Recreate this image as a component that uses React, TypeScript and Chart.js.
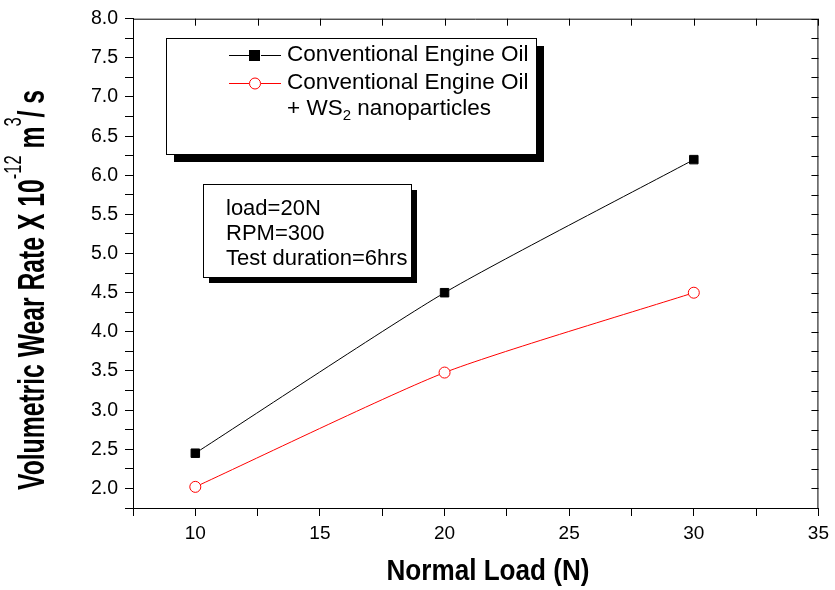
import React, { useEffect, useRef } from 'react';
import { Chart, registerables } from 'chart.js';

Chart.register(...registerables);

const loads = [10, 20, 30];
const conventionalOil = [2.45, 4.5, 6.2];
const oilWithWS2 = [2.02, 3.48, 4.5];
const seriesNames = ['Conventional Engine Oil', 'Conventional Engine Oil'];
const legendExtraLine = ['+ WS', '2', ' nanoparticles'];
const noteLines = ['load=20N', 'RPM=300', 'Test duration=6hrs'];
const xTitle = 'Normal Load (N)';
const yTitleParts = [
  { t: 'Volumetric Wear Rate X 10', sup: false },
  { t: '-12', sup: true },
  { t: ' m', sup: false },
  { t: '3', sup: true },
  { t: '/ s', sup: false },
];

const FONT = '"Liberation Sans", Arial, sans-serif';

function drawRich(ctx: any, parts: { t: string; sup: boolean }[], mainFont: string, supFont: string, raise: number, targetLen: number) {
  const widths = parts.map((p) => {
    ctx.font = p.sup ? supFont : mainFont;
    return ctx.measureText(p.t).width;
  });
  const total = widths.reduce((a, b) => a + b, 0);
  const s = targetLen / total;
  ctx.scale(s, 1);
  let x = -total / 2;
  ctx.textAlign = 'left';
  ctx.textBaseline = 'alphabetic';
  parts.forEach((p, i) => {
    ctx.font = p.sup ? supFont : mainFont;
    ctx.fillText(p.t, x, p.sup ? -raise : 0);
    x += widths[i];
  });
}

const framePlugin = {
  id: 'frameAndNotes',
  afterDatasetsDraw(chart: any) {
    const { ctx, chartArea: a, scales } = chart;
    ctx.save();
    // frame
    ctx.strokeStyle = '#000';
    ctx.lineWidth = 1;
    ctx.beginPath();
    ctx.moveTo(a.left, a.top + 0.5);
    ctx.lineTo(a.right - 0.5, a.top + 0.5);
    ctx.lineTo(a.right - 0.5, a.bottom);
    ctx.stroke();
    // inward ticks on top and right
    const xs = scales.x;
    const ys = scales.y;
    ctx.beginPath();
    xs.ticks.forEach((t: any) => {
      const px = Math.round(xs.getPixelForValue(t.value)) + 0.5;
      ctx.moveTo(px, a.top);
      ctx.lineTo(px, a.top + 7);
    });
    ys.ticks.forEach((t: any) => {
      const py = Math.round(ys.getPixelForValue(t.value)) + 0.5;
      ctx.moveTo(a.right, py);
      ctx.lineTo(a.right - 7, py);
    });
    ctx.stroke();

    // legend box
    const lx = 166, ly = 38, lw = 370, lh = 116;
    ctx.fillStyle = '#000';
    ctx.fillRect(lx + 8, ly + 8, lw, lh);
    ctx.fillStyle = '#fff';
    ctx.fillRect(lx, ly, lw, lh);
    ctx.strokeRect(lx + 0.5, ly + 0.5, lw, lh);

    const ds = chart.data.datasets;
    const rows = [55, 83];
    ctx.font = `22.5px ${FONT}`;
    ctx.textBaseline = 'middle';
    rows.forEach((ry, i) => {
      const d = ds[i];
      ctx.strokeStyle = d.borderColor;
      ctx.lineWidth = 1;
      ctx.beginPath();
      ctx.moveTo(229, ry + 0.5);
      ctx.lineTo(249, ry + 0.5);
      ctx.moveTo(261, ry + 0.5);
      ctx.lineTo(281, ry + 0.5);
      ctx.stroke();
      if (i === 0) {
        ctx.fillStyle = d.pointBackgroundColor;
        ctx.fillRect(249, ry - 5, 11, 11);
      } else {
        ctx.fillStyle = '#fff';
        ctx.beginPath();
        ctx.arc(255, ry + 0.5, 5.5, 0, Math.PI * 2);
        ctx.fill();
        ctx.stroke();
      }
      ctx.fillStyle = '#000';
      ctx.fillText(seriesNames[i], 287, ry);
    });
    // third row with subscript
    let tx = 287;
    const ry3 = 109;
    ctx.fillText(legendExtraLine[0], tx, ry3);
    tx += ctx.measureText(legendExtraLine[0]).width;
    ctx.font = `15px ${FONT}`;
    ctx.fillText(legendExtraLine[1], tx, ry3 + 7);
    tx += ctx.measureText(legendExtraLine[1]).width;
    ctx.font = `22.5px ${FONT}`;
    ctx.fillText(legendExtraLine[2], tx, ry3);

    // note box
    const nx = 203, ny = 184, nw = 208, nh = 93;
    ctx.fillStyle = '#000';
    ctx.fillRect(nx + 6, ny + 6, nw, nh);
    ctx.fillStyle = '#fff';
    ctx.fillRect(nx, ny, nw, nh);
    ctx.strokeStyle = '#000';
    ctx.strokeRect(nx + 0.5, ny + 0.5, nw, nh);
    ctx.fillStyle = '#000';
    ctx.font = `22px ${FONT}`;
    noteLines.forEach((s, i) => ctx.fillText(s, 226, 209 + i * 25));
    ctx.restore();

    // axis titles
    ctx.save();
    ctx.fillStyle = '#000';
    ctx.translate(488, 580);
    drawRich(ctx, [{ t: xTitle, sup: false }], `bold 30px ${FONT}`, `16px ${FONT}`, 0, 203);
    ctx.restore();

    ctx.save();
    ctx.fillStyle = '#000';
    ctx.translate(44, 290);
    ctx.rotate(-Math.PI / 2);
    drawRich(ctx, yTitleParts, `bold 36px ${FONT}`, `24px ${FONT}`, 23, 400);
    ctx.restore();
  },
};

export default function App() {
  const ref = useRef<HTMLCanvasElement | null>(null);
  useEffect(() => {
    document.body.style.margin = '0';
    const chart = new Chart(ref.current as HTMLCanvasElement, {
      type: 'line',
      data: {
        datasets: [
          {
            label: seriesNames[0],
            data: loads.map((x, i) => ({ x, y: conventionalOil[i] })),
            borderColor: '#000',
            borderWidth: 1,
            pointStyle: 'rect',
            pointRadius: 6,
            pointBackgroundColor: '#000',
            pointBorderColor: '#000',
            tension: 0.2,
          },
          {
            label: seriesNames[1],
            data: loads.map((x, i) => ({ x, y: oilWithWS2[i] })),
            borderColor: '#ff0000',
            borderWidth: 1,
            pointStyle: 'circle',
            pointRadius: 5.5,
            pointBackgroundColor: '#fff',
            pointBorderColor: '#ff0000',
            pointBorderWidth: 1,
            tension: 0.2,
          },
        ],
      },
      options: {
        animation: false,
        responsive: false,
        layout: { padding: { top: 18, right: 12, left: 0, bottom: 0 } },
        plugins: { legend: { display: false }, tooltip: { enabled: false } },
        scales: {
          x: {
            type: 'linear',
            min: 7.5,
            max: 35,
            afterFit: (s: any) => { s.height = 82; },
            ticks: {
              stepSize: 2.5,
              autoSkip: false,
              color: '#000',
              font: { family: FONT, size: 19 },
              padding: 6,
              maxRotation: 0,
              callback: (v: any) => (Number(v) % 5 === 0 ? String(v) : ''),
            },
            grid: { drawOnChartArea: false, tickLength: 8, color: '#000', tickColor: '#000' },
            border: { color: '#000', width: 1 },
          },
          y: {
            min: 1.75,
            max: 8,
            afterFit: (s: any) => { s.width = 133; },
            ticks: {
              stepSize: 0.25,
              autoSkip: false,
              color: '#000',
              font: { family: FONT, size: 19.5 },
              padding: 7,
              callback: (v: any) => (Math.abs((Number(v) * 2) % 1) < 1e-6 ? Number(v).toFixed(1) : ''),
            },
            grid: { drawOnChartArea: false, tickLength: 8, color: '#000', tickColor: '#000' },
            border: { color: '#000', width: 1 },
          },
        },
      },
      plugins: [framePlugin],
    });
    return () => chart.destroy();
  }, []);
  return (
    <div style={{ width: 835, height: 590 }}>
      <canvas ref={ref} width={835} height={590} style={{ display: 'block' }} />
    </div>
  );
}
